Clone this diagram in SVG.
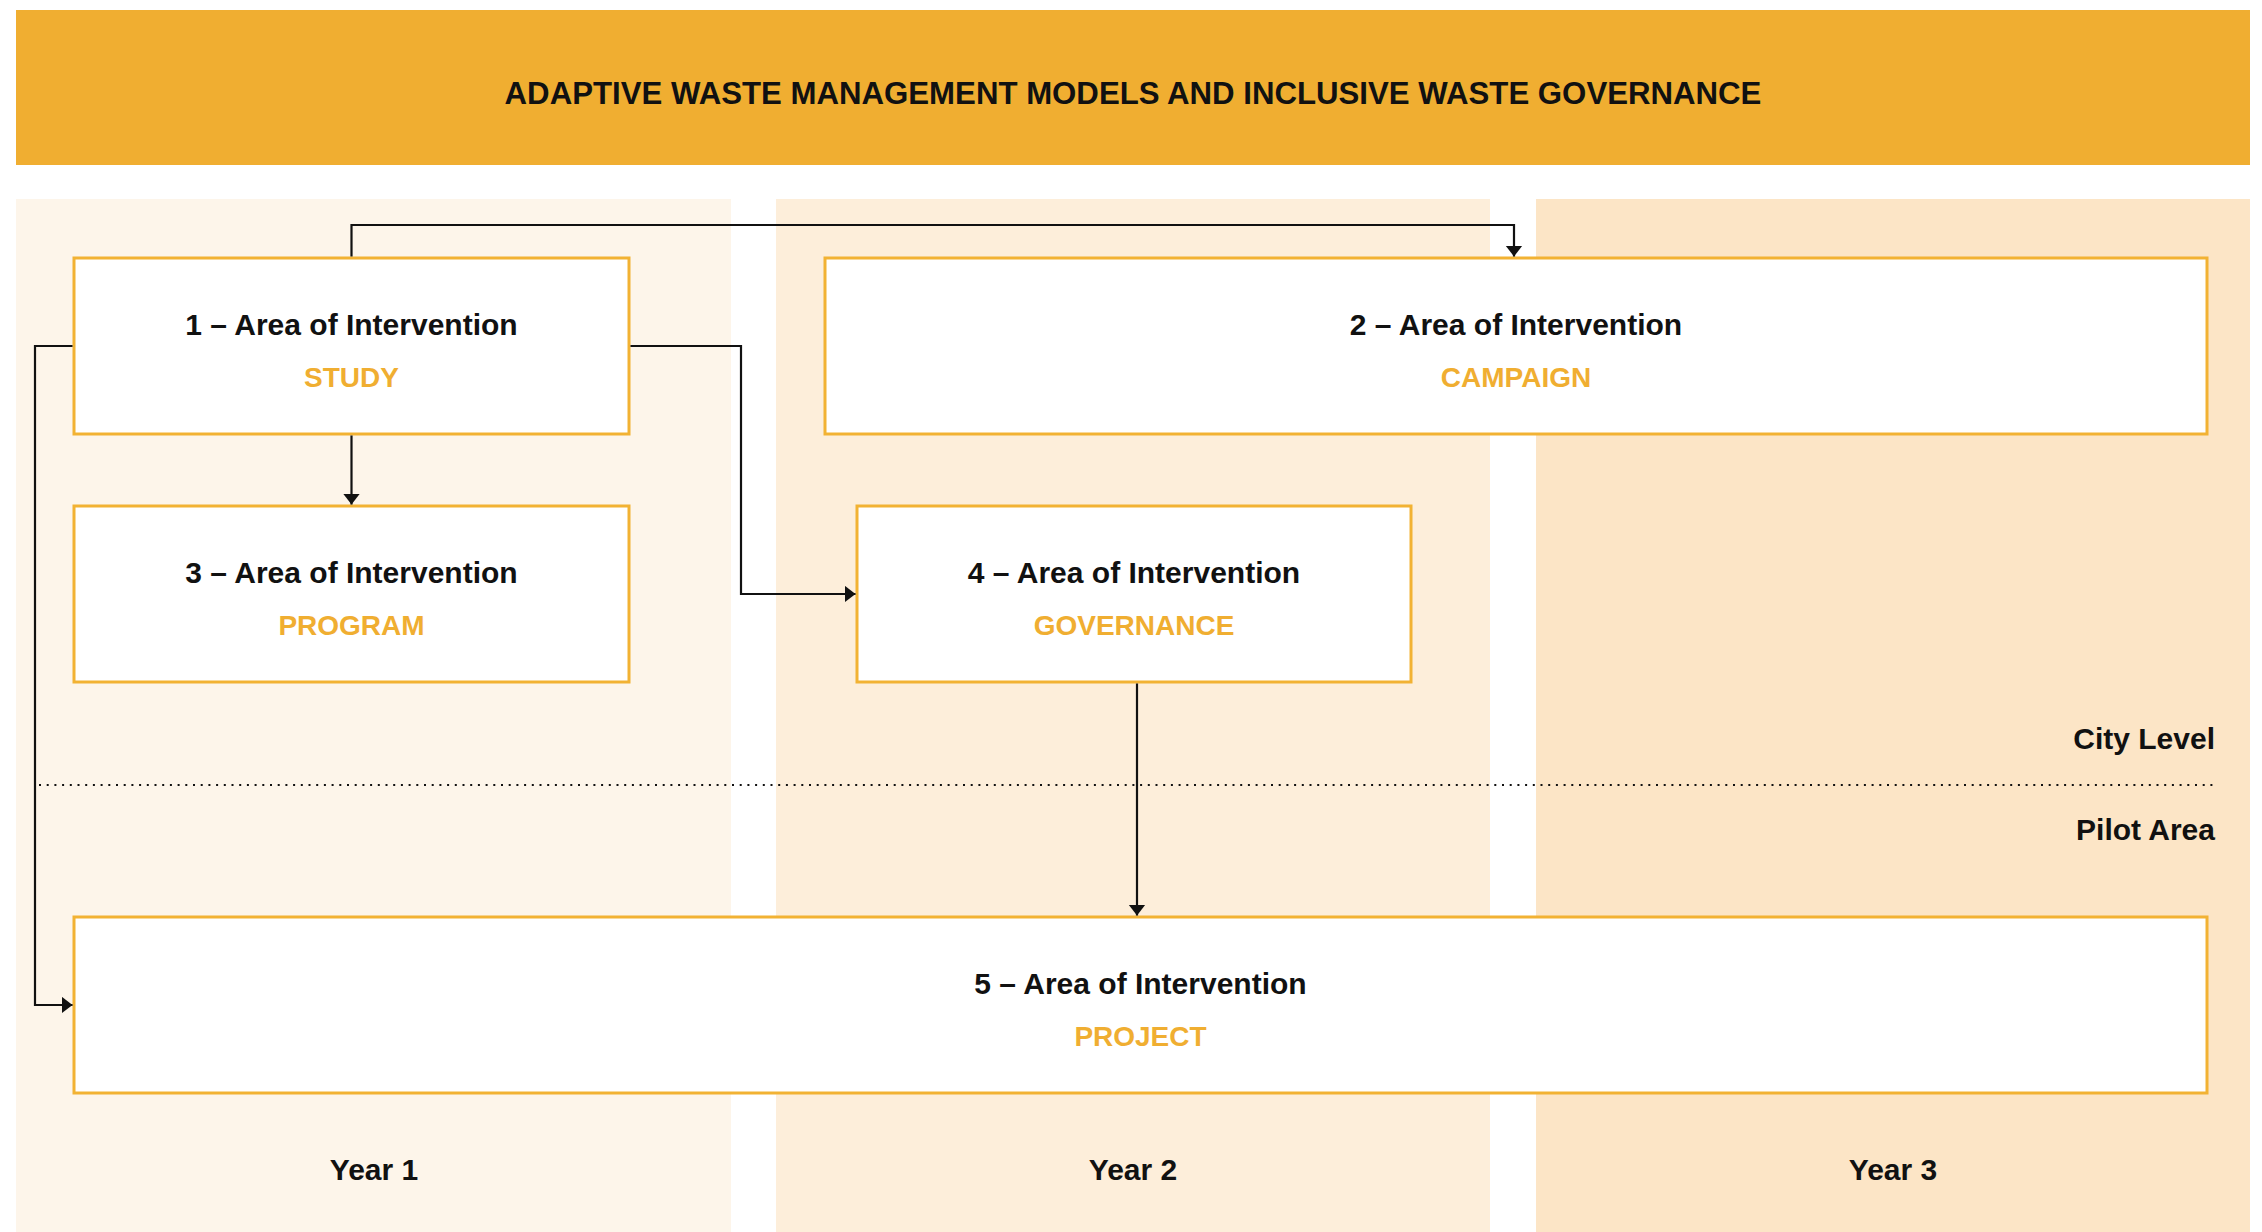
<svg xmlns="http://www.w3.org/2000/svg" width="2262" height="1232" viewBox="0 0 2262 1232">
  <style>
    .band1 { fill: #FDF5EA; }
    .band2 { fill: #FDEEDA; }
    .band3 { fill: #FCE5C6; }
    .box { fill: #FFFFFF; stroke: #F2B233; stroke-width: 3; }
    .t { font-family: "Liberation Sans", Arial, sans-serif; font-weight: bold; fill: #111111; text-anchor: middle; }
    .title { font-size: 30px; }
    .sub { font-size: 28px; fill: #F0AE31; }
    .head { font-size: 31.2px; }
    .lbl { font-family: "Liberation Sans", Arial, sans-serif; font-weight: bold; font-size: 30px; fill: #111111; text-anchor: end; }
    .conn { fill: none; stroke: #111111; stroke-width: 2.2; }
  </style>
  <defs>
    <marker id="arrow" markerUnits="userSpaceOnUse" markerWidth="12" markerHeight="18" refX="11" refY="8.5" orient="auto">
      <path d="M0,0 L11,8.5 L0,17 z" fill="#111111"/>
    </marker>
  </defs>
  <rect x="0" y="0" width="2262" height="1232" fill="#FFFFFF"/>

  <g id="header">
    <rect x="16" y="10" width="2234" height="155" fill="#F0AE31"/>
    <text class="t head" x="1133" y="104">ADAPTIVE WASTE MANAGEMENT MODELS AND INCLUSIVE WASTE GOVERNANCE</text>
  </g>

  <g id="bands">
    <rect class="band1" x="16" y="199" width="715" height="1033"/>
    <rect class="band2" x="776" y="199" width="714" height="1033"/>
    <rect class="band3" x="1536" y="199" width="714" height="1033"/>
  </g>

  <g id="levels">
    <line x1="39" y1="785" x2="2215" y2="785" stroke="#111111" stroke-width="2" stroke-dasharray="2 5.7"/>
    <text class="lbl" x="2215" y="749">City Level</text>
    <text class="lbl" x="2215" y="840">Pilot Area</text>
  </g>

  <g id="node1">
    <rect class="box" x="74" y="258" width="555" height="176"/>
    <text class="t title" x="351.5" y="335">1 – Area of Intervention</text>
    <text class="t sub" x="351.5" y="387">STUDY</text>
  </g>
  <g id="node2">
    <rect class="box" x="825" y="258" width="1382" height="176"/>
    <text class="t title" x="1516" y="335">2 – Area of Intervention</text>
    <text class="t sub" x="1516" y="387">CAMPAIGN</text>
  </g>
  <g id="node3">
    <rect class="box" x="74" y="506" width="555" height="176"/>
    <text class="t title" x="351.5" y="583">3 – Area of Intervention</text>
    <text class="t sub" x="351.5" y="635">PROGRAM</text>
  </g>
  <g id="node4">
    <rect class="box" x="857" y="506" width="554" height="176"/>
    <text class="t title" x="1134" y="583">4 – Area of Intervention</text>
    <text class="t sub" x="1134" y="635">GOVERNANCE</text>
  </g>
  <g id="node5">
    <rect class="box" x="74" y="917" width="2133" height="176"/>
    <text class="t title" x="1140.5" y="994">5 – Area of Intervention</text>
    <text class="t sub" x="1140.5" y="1046">PROJECT</text>
  </g>

  <g id="years">
    <text class="t title" x="374" y="1180">Year 1</text>
    <text class="t title" x="1133" y="1180">Year 2</text>
    <text class="t title" x="1893" y="1180">Year 3</text>
  </g>

  <g id="connectors">
    <path class="conn" d="M351.5,256.5 V225 H1514 V256.5" marker-end="url(#arrow)"/>
    <path class="conn" d="M351.5,435.5 V504.5" marker-end="url(#arrow)"/>
    <path class="conn" d="M630.5,346 H741 V594 H855.5" marker-end="url(#arrow)"/>
    <path class="conn" d="M72.5,346 H35 V1005 H72.5" marker-end="url(#arrow)"/>
    <path class="conn" d="M1137,683.5 V915.5" marker-end="url(#arrow)"/>
  </g>
</svg>
